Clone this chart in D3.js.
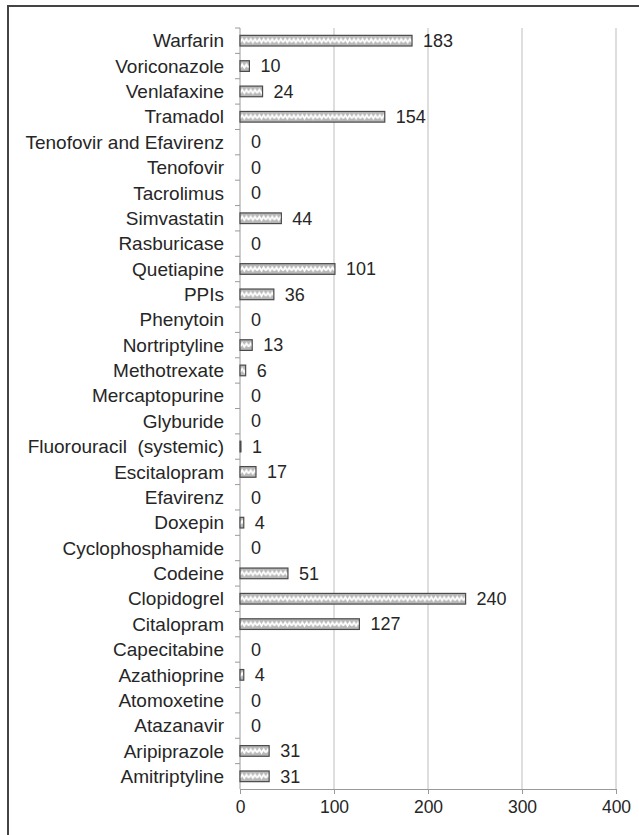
<!DOCTYPE html>
<html>
<head>
<meta charset="utf-8">
<script src="https://cdn.jsdelivr.net/npm/d3@7"></script>
<style>
  body { margin: 0; background: #fff; }
  text { font-family: "Liberation Sans", Arial, sans-serif; fill: #262626; }
</style>
</head>
<body>
<div id="chart"></div>
<script>

// drug names, top to bottom as in the figure
var drugs = ["Warfarin", "Voriconazole", "Venlafaxine", "Tramadol", "Tenofovir and Efavirenz",
  "Tenofovir", "Tacrolimus", "Simvastatin", "Rasburicase", "Quetiapine", "PPIs", "Phenytoin",
  "Nortriptyline", "Methotrexate", "Mercaptopurine", "Glyburide", "Fluorouracil  (systemic)",
  "Escitalopram", "Efavirenz", "Doxepin", "Cyclophosphamide", "Codeine", "Clopidogrel",
  "Citalopram", "Capecitabine", "Azathioprine", "Atomoxetine", "Atazanavir", "Aripiprazole",
  "Amitriptyline"];

var counts = [183, 10, 24, 154, 0, 0, 0, 44, 0, 101, 36, 0, 13, 6, 0, 0, 1, 17, 0, 4, 0, 51,
  240, 127, 0, 4, 0, 0, 31, 31];

var xTicks = [0, 100, 200, 300, 400];

var data = drugs.map(function (d, i) { return { drug: d, n: counts[i] }; });

var W = 639, H = 835;
var margin = { left: 240, right: 23, top: 28, bottom: 46 };

var svg = d3.select("#chart").append("svg")
  .attr("width", W)
  .attr("height", H);

// outer frame (right and bottom edges run off the page)
svg.append("rect")
  .attr("x", 8).attr("y", 6)
  .attr("width", W + 10).attr("height", H + 10)
  .attr("fill", "none")
  .attr("stroke", "#444")
  .attr("stroke-width", 2);

var width = W - margin.left - margin.right;
var height = H - margin.top - margin.bottom;

var g = svg.append("g")
  .attr("transform", "translate(" + margin.left + "," + margin.top + ")");

var x = d3.scaleLinear().domain([0, 400]).range([0, width]);
var y = d3.scaleBand().domain(drugs).range([0, height]).paddingInner(0.58).paddingOuter(0.29);
var yEdge = d3.scaleBand().domain(drugs).range([0, height]);

// zigzag fill, one tile per row so the wave sits in the middle of each bar
var step = yEdge.step();
var mid = y(drugs[0]) + y.bandwidth() / 2;
var pat = svg.append("defs").append("pattern")
  .attr("id", "zig")
  .attr("patternUnits", "userSpaceOnUse")
  .attr("width", 8.6)
  .attr("height", step);
pat.append("rect").attr("width", 8.6).attr("height", step).attr("fill", "#b8b8b8");
pat.append("path")
  .attr("d", "M0," + (mid + 1.7) + " L2.15," + (mid - 1.7) + " L4.3," + (mid + 1.7) +
    " L6.45," + (mid - 1.7) + " L8.6," + (mid + 1.7))
  .attr("fill", "none").attr("stroke", "#fff").attr("stroke-width", 1.9);

// gridlines
g.selectAll(".grid")
  .data(xTicks.slice(1))
  .enter().append("line")
  .attr("x1", function (d) { return x(d); })
  .attr("x2", function (d) { return x(d); })
  .attr("y1", 0)
  .attr("y2", height)
  .attr("stroke", "#bdbdbd")
  .attr("stroke-width", 1);

// x axis
var xAxis = g.append("g")
  .attr("transform", "translate(0," + height + ")")
  .call(d3.axisBottom(x).tickValues(xTicks).tickSize(5).tickPadding(7));
xAxis.select(".domain").attr("stroke", "#9a9a9a");
xAxis.selectAll(".tick line").attr("stroke", "#9a9a9a");
xAxis.selectAll("text")
  .style("font-size", "17.5px")
  .attr("fill", "#262626");

// y axis: line with ticks at band edges
g.append("line")
  .attr("x1", 0).attr("x2", 0)
  .attr("y1", 0).attr("y2", height)
  .attr("stroke", "#9a9a9a");
g.selectAll(".ytick")
  .data(drugs)
  .enter().append("line")
  .attr("x1", -5).attr("x2", 0)
  .attr("y1", function (d) { return yEdge(d); })
  .attr("y2", function (d) { return yEdge(d); })
  .attr("stroke", "#9a9a9a");

g.selectAll(".lab")
  .data(data)
  .enter().append("text")
  .attr("x", -16)
  .attr("y", function (d) { return yEdge(d.drug) + yEdge.bandwidth() / 2; })
  .attr("dy", "0.35em")
  .attr("text-anchor", "end")
  .style("font-size", "19px")
  .style("white-space", "pre")
  .text(function (d) { return d.drug; });

// bars
g.selectAll(".bar")
  .data(data.filter(function (d) { return d.n > 0; }))
  .enter().append("rect")
  .attr("x", 0)
  .attr("y", function (d) { return y(d.drug); })
  .attr("width", function (d) { return x(d.n); })
  .attr("height", y.bandwidth())
  .attr("fill", "url(#zig)")
  .attr("stroke", "#4a4a4a")
  .attr("stroke-width", 1.2);

// value labels
g.selectAll(".val")
  .data(data)
  .enter().append("text")
  .attr("x", function (d) { return x(d.n) + 11; })
  .attr("y", function (d) { return yEdge(d.drug) + yEdge.bandwidth() / 2; })
  .attr("dy", "0.35em")
  .style("font-size", "18px")
  .text(function (d) { return d.n; });

</script>
</body>
</html>
